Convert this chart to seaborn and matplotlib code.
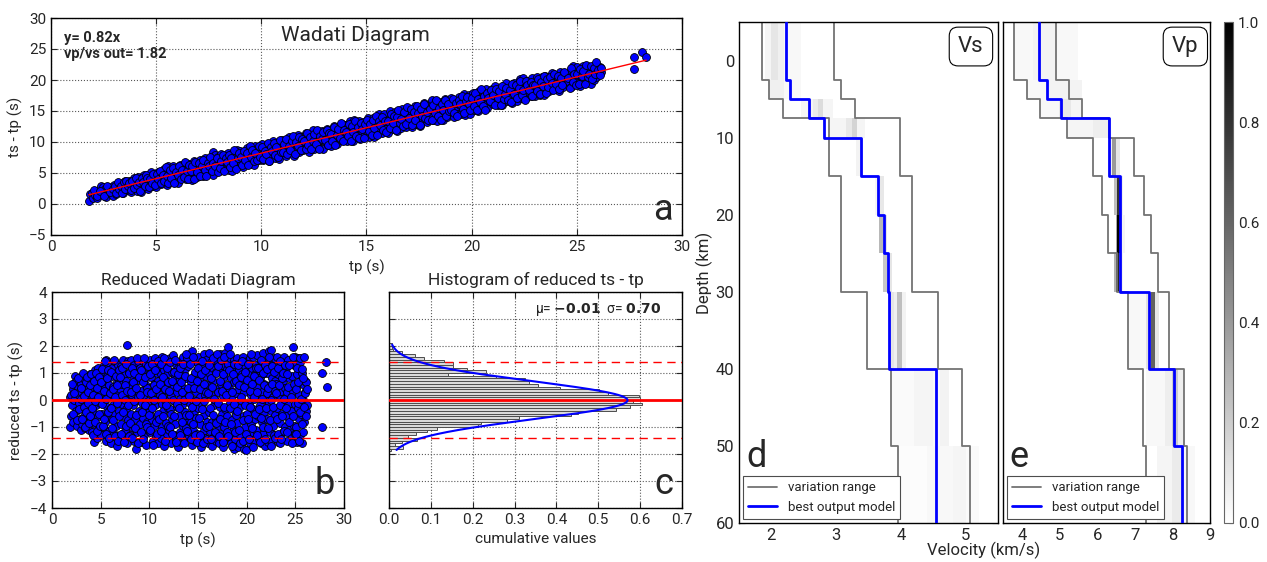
import numpy as np
import pandas as pd
import seaborn as sns
import matplotlib.pyplot as plt
from matplotlib.lines import Line2D

sns.set_style("ticks", {"xtick.direction": "in", "ytick.direction": "in"})
plt.rcParams['font.family'] = ['Roboto', 'DejaVu Sans']
plt.rcParams['axes.edgecolor'] = 'black'

# --- wadati data: (tp, reduced ts-tp) ---
obs = [
    (1.8, -1.0), (1.85, 0.1), (1.95, 0.2), (2.0, -0.6), (2.1, -0.2), (2.15, 0.4), (2.2, -0.8), (2.3, 0.0),
    (2.4, 0.9), (2.45, 0.7), (2.5, -0.4), (2.55, 0.3), (2.6, -0.95), (2.7, 0.5), (2.75, -0.1), (2.8, 0.2),
    (2.85, -0.7), (2.9, 0.35), (2.95, -1.1),
    (3.0, 0.6), (3.05, -0.3), (3.1, -0.9), (3.15, 0.1), (3.2, 0.8), (3.3, -0.6), (3.35, 0.4), (3.4, -1.05),
    (3.45, 0.0), (3.5, 0.9), (3.55, -0.4), (3.6, 0.3), (3.65, -0.8), (3.7, 0.7), (3.75, -0.15), (3.8, -1.1),
    (3.85, 0.5), (3.9, -0.5), (3.95, 0.95), (3.97, 0.15),
    (4.0, -0.7), (4.05, 0.5), (4.1, -1.2), (4.15, 0.95), (4.2, 0.05), (4.25, -0.45), (4.3, -1.55), (4.35, 0.65),
    (4.4, 1.1), (4.45, -0.9), (4.5, 0.25), (4.55, -0.2), (4.6, -1.4), (4.65, 0.8), (4.7, -0.6), (4.75, 1.2),
    (4.8, 0.4), (4.85, -1.05), (4.9, -0.1), (4.95, 0.6),
    (5.0, -1.3), (5.05, 0.3), (5.1, 1.0), (5.15, -0.5), (5.2, 0.7), (5.25, -1.0), (5.3, 0.0), (5.35, 1.3),
    (5.4, -0.8), (5.45, 0.45), (5.5, -1.5), (5.55, 1.5), (5.6, -0.25), (5.65, 0.9), (5.7, -0.6), (5.75, 0.2),
    (5.8, 1.4), (5.85, -1.15), (5.9, 0.55), (5.95, -0.35),
    (6.0, 0.85), (6.05, -1.6), (6.1, 0.15), (6.15, 1.2), (6.2, -0.7), (6.25, 0.5), (6.3, -0.2), (6.35, 1.45),
    (6.4, -1.25), (6.45, 0.3), (6.5, -0.5), (6.55, 1.0), (6.6, -0.95), (6.65, 0.65), (6.7, -1.7), (6.75, 0.0),
    (6.8, 1.3), (6.85, -0.4), (6.9, 0.75), (6.95, -1.4),
    (7.0, 0.4), (7.05, -0.9), (7.1, 1.25), (7.15, -0.15), (7.2, 0.6), (7.25, -1.45), (7.3, 1.5), (7.35, -0.6),
    (7.4, 0.1), (7.45, 0.95), (7.5, -1.15), (7.7, 2.05), (7.6, -0.35), (7.65, 0.7), (7.7, -1.6), (7.75, 0.3),
    (7.8, 1.45), (7.85, -0.75), (7.9, -0.05), (7.95, 1.05),
    (8.0, -1.3), (8.05, 0.55), (8.1, 1.5), (8.15, -0.5), (8.2, 0.2), (8.25, -1.0), (8.3, 0.9), (8.35, -0.2),
    (8.4, 1.3), (8.45, -1.5), (8.5, 0.4), (8.55, -0.7), (8.6, -1.8), (8.65, 1.1), (8.7, 0.0), (8.75, -1.2),
    (8.8, 0.75), (8.85, 1.45), (8.9, -0.4), (8.95, 0.25),
    (9.0, 1.2), (9.05, -0.9), (9.1, 0.35), (9.15, -1.55), (9.2, 0.8), (9.25, -0.1), (9.3, 1.45), (9.35, -0.65),
    (9.4, 0.1), (9.45, -1.3), (9.5, 1.0), (9.55, -0.3), (9.6, 0.6), (9.65, -1.65), (9.7, 1.35), (9.75, -0.8),
    (9.8, 0.45), (9.85, -0.05), (9.9, -1.1), (9.95, 0.95),
    (10.0, -0.45), (10.05, 1.5), (10.1, -1.2), (10.15, 0.3), (10.2, 0.85), (10.25, -0.75), (10.3, 1.2), (10.35, -1.5),
    (10.4, 0.05), (10.45, 0.6), (10.5, -0.95), (10.55, 1.55), (10.6, -0.2), (10.65, -1.35), (10.7, 0.4), (10.75, 1.0),
    (10.8, -0.6), (10.85, -1.6), (10.9, 0.7), (10.95, 0.15),
    (11.0, 1.3), (11.05, -0.55), (11.1, 0.2), (11.15, -1.4), (11.2, 0.95), (11.25, -0.15), (11.3, 1.6), (11.35, -1.0),
    (11.4, 0.5), (11.45, -0.4), (11.5, 1.1), (11.55, -1.7), (11.6, 0.0), (11.65, 0.75), (11.7, -0.85), (11.75, 1.45),
    (11.8, -1.25), (11.85, 0.35), (11.9, -0.3), (11.95, 1.0),
    (12.0, -1.1), (12.05, 0.6), (12.1, 1.55), (12.15, -0.35), (12.2, 0.15), (12.25, -1.6), (12.3, 1.05), (12.35, -0.7),
    (12.4, 0.45), (12.45, 1.65), (12.5, -1.3), (12.55, -0.05), (12.6, 0.85), (12.65, -0.9), (12.7, 1.3), (12.75, -1.45),
    (12.8, 0.3), (12.85, -0.25), (12.9, 1.2), (12.95, -1.75),
    (13.0, 0.7), (13.05, -0.6), (13.1, 1.4), (13.15, -1.2), (13.2, 0.05), (13.25, 1.0), (13.3, -1.55), (13.35, 0.5),
    (13.4, -0.2), (13.45, 1.6), (13.5, -0.95), (13.55, 0.25), (13.6, -1.4), (13.65, 1.15), (13.7, -0.45), (13.75, 0.8),
    (13.8, -1.05), (13.85, 1.55), (13.9, 0.1), (13.95, -0.75),
    (14.0, 1.25), (14.05, -1.35), (14.1, 0.4), (14.15, -0.1), (14.2, 1.7), (14.25, -0.8), (14.3, 0.65), (14.35, -1.65),
    (14.4, 1.8), (14.45, 0.0), (14.5, -1.1), (14.55, 0.9), (14.6, -0.4), (14.65, 1.45), (14.7, -1.5), (14.75, 0.3),
    (14.8, -0.65), (14.85, 1.1), (14.9, -1.25), (14.95, 0.55),
    (15.0, -0.3), (15.05, 1.6), (15.1, -1.5), (15.15, 0.75), (15.2, 0.1), (15.25, -0.9), (15.3, 1.3), (15.35, -1.75),
    (15.4, 0.45), (15.45, -0.15), (15.5, 1.0), (15.55, -1.2), (15.6, 1.7), (15.65, -0.55), (15.7, 0.2), (15.75, -1.4),
    (15.8, 0.9), (15.85, 1.5), (15.9, -0.8), (15.95, 0.35),
    (16.0, -1.6), (16.05, 0.55), (16.1, 1.75), (16.15, -0.45), (16.2, 0.95), (16.25, -1.15), (16.3, 0.2), (16.35, 1.4),
    (16.4, -0.8), (16.45, -1.7), (16.5, 0.7), (16.55, 1.2), (16.6, -0.2), (16.65, -1.35), (16.7, 1.6), (16.75, 0.0),
    (16.8, -0.7), (16.85, 1.05), (16.9, -1.5), (16.95, 0.4),
    (17.0, 1.45), (17.05, -0.95), (17.1, 0.3), (17.15, -1.6), (17.2, 1.1), (17.25, -0.25), (17.3, 1.7), (17.35, -1.25),
    (17.4, 0.6), (17.45, -0.5), (17.5, 1.3), (17.55, -1.75), (17.6, 0.15), (17.65, 0.85), (17.7, -1.0), (17.75, 1.75),
    (17.8, -0.35), (17.85, 0.5), (17.9, -1.4), (17.95, 1.15),
    (18.0, -0.6), (18.05, 1.35), (18.1, 1.95), (18.15, -1.3), (18.2, 0.45), (18.25, -0.1), (18.3, 1.55), (18.35, -1.6),
    (18.4, 0.8), (18.45, -0.75), (18.5, 0.15), (18.55, 1.2), (18.6, -1.1), (18.65, -1.8), (18.7, 0.65), (18.75, 1.5),
    (18.8, -0.4), (18.85, -1.45), (18.9, 1.0), (18.95, 0.25),
    (19.0, 1.55), (19.05, -0.85), (19.1, 0.4), (19.15, -1.75), (19.2, 1.1), (19.25, -0.3), (19.3, 0.7), (19.35, -1.3),
    (19.4, 1.4), (19.45, 0.0), (19.5, -1.55), (19.55, 0.95), (19.6, -0.6), (19.65, 1.6), (19.7, -1.8), (19.75, 0.3),
    (19.8, -1.0), (19.85, 1.25), (19.9, -1.85), (19.95, 0.6),
    (20.0, -0.5), (20.05, 1.45), (20.1, -1.35), (20.15, 0.55), (20.2, 1.0), (20.25, -0.15), (20.3, -1.6), (20.35, 1.55),
    (20.4, 0.2), (20.45, -0.9), (20.5, 1.2), (20.55, -1.2), (20.6, 0.7), (20.65, -0.35), (20.7, 1.6), (20.75, -1.5),
    (20.8, 0.05), (20.85, 0.95), (20.9, -0.7), (20.95, 1.3),
    (21.0, -1.1), (21.05, 0.45), (21.1, 1.65), (21.15, -0.6), (21.2, 0.15), (21.25, -1.45), (21.3, 1.1), (21.35, -0.2),
    (21.4, 0.8), (21.45, -1.6), (21.5, 1.45), (21.55, -0.8), (21.6, 0.3), (21.65, 1.75), (21.7, -1.25), (21.75, 0.6),
    (21.8, -0.45), (21.85, 1.0), (21.9, -1.7), (21.95, 0.0),
    (22.0, 1.4), (22.05, -0.7), (22.1, 0.25), (22.15, -1.55), (22.2, 1.0), (22.25, -0.1), (22.3, 1.8), (22.35, -1.2),
    (22.4, 0.55), (22.45, 1.85), (22.5, -0.4), (22.55, -1.5), (22.6, 0.8), (22.65, 1.3), (22.7, -0.95), (22.75, 0.1),
    (22.8, -1.3), (22.85, 1.55), (22.9, -0.55), (22.95, 0.7),
    (23.0, -1.4), (23.05, 0.6), (23.1, 1.6), (23.15, -0.3), (23.2, 0.95), (23.25, -1.55), (23.3, 0.2), (23.35, 1.3),
    (23.4, -0.85), (23.45, -1.6), (23.5, 1.45), (23.55, 0.35), (23.6, -0.5), (23.65, 1.1), (23.7, -1.2), (23.75, 0.7),
    (23.8, 1.6), (23.85, -0.1), (23.9, -1.0), (23.95, 0.45),
    (24.0, 1.2), (24.05, -0.6), (24.1, 0.3), (24.15, -1.5), (24.2, 1.5), (24.25, -0.2), (24.3, 0.8), (24.35, -1.1),
    (24.6, -0.4), (24.65, 0.9), (24.7, -1.35), (24.75, 0.35), (24.8, 1.95), (24.85, -0.95), (24.9, 1.3), (24.95, -0.15),
    (25.0, 1.6), (25.05, -1.0), (25.1, 0.5), (25.15, -1.55), (25.2, 0.95), (25.25, -0.3), (25.3, 1.55), (25.35, -0.7),
    (25.4, 0.2), (25.45, -1.3), (25.5, 1.4), (25.55, -0.5), (25.6, 0.75), (25.65, -1.6), (25.7, 1.0), (25.75, 0.0),
    (25.8, -1.2), (25.85, 0.55), (25.9, -0.8), (25.95, 0.3),
    (26.0, 0.7), (26.05, -0.4), (26.1, 0.65), (26.15, -0.2),
    (27.7, 1.0), (27.7, -1.0), (28.1, 1.4), (28.3, 0.5),
]
# second batch of picks filling the middle of the cloud
obs_more = [
    (2.03, 0.6), (2.17, -0.5), (2.31, 0.25), (2.52, -0.75), (2.65, 0.8), (2.8, -0.35), (2.93, 0.05),
    (3.03, 0.45), (3.1, -0.7), (3.17, 1.0), (3.24, -0.25), (3.31, 0.15), (3.38, -1.0), (3.45, 0.65),
    (3.52, -0.45), (3.58, 0.85), (3.65, -0.1), (3.72, 0.3), (3.8, -0.85), (3.87, 0.55), (3.93, -0.6),
    (4.03, 0.95), (4.1, -0.3), (4.17, 0.2), (4.24, -1.3), (4.31, 0.7), (4.38, -0.05), (4.45, -0.8),
    (4.52, 1.0), (4.58, 0.45), (4.65, -1.15), (4.72, 0.1), (4.8, -0.5), (4.87, 0.85), (4.93, -0.95),
    (5.03, 0.65), (5.1, -0.15), (5.17, 1.15), (5.24, -0.95), (5.31, 0.35), (5.38, -0.7), (5.45, 1.45),
    (5.52, 0.05), (5.58, -1.25), (5.65, 0.8), (5.72, -0.45), (5.8, 1.1), (5.87, -1.4), (5.93, 0.25),
    (6.03, -0.3), (6.1, 1.05), (6.17, -1.05), (6.24, 0.4), (6.31, -0.75), (6.38, 1.5), (6.45, 0.1),
    (6.52, -1.35), (6.58, 0.9), (6.65, -0.1), (6.72, 0.55), (6.8, -1.5), (6.87, 1.1), (6.93, -0.6),
    (7.03, 0.85), (7.1, -1.25), (7.17, 0.2), (7.24, 1.2), (7.31, -0.45), (7.38, -1.55), (7.45, 0.55),
    (7.52, 0.0), (7.58, 1.35), (7.65, -0.95), (7.72, 0.35), (7.8, -0.2), (7.87, 1.0), (7.93, -1.35),
    (8.03, -0.85), (8.1, 0.3), (8.17, 1.2), (8.24, -1.4), (8.31, 0.65), (8.38, -0.05), (8.45, 1.0),
    (8.52, -1.05), (8.58, 0.45), (8.65, -0.55), (8.72, 1.55), (8.8, -1.6), (8.87, 0.1), (8.93, 0.85),
    (9.03, 0.2), (9.1, -1.2), (9.17, 1.1), (9.24, -0.45), (9.31, 0.65), (9.38, -1.45), (9.45, 1.55),
    (9.52, -0.2), (9.58, 0.85), (9.65, -0.9), (9.72, 0.3), (9.8, -1.0), (9.87, 1.25), (9.93, -0.55),
    (10.03, 0.95), (10.1, -1.1), (10.17, 0.25), (10.24, -0.3), (10.31, 1.35), (10.38, -1.65), (10.45, 0.55),
    (10.52, 0.0), (10.58, 1.1), (10.65, -0.8), (10.72, 0.4), (10.8, -1.25), (10.87, 1.45), (10.93, -0.5),
    (11.03, -0.7), (11.1, 0.6), (11.17, 1.35), (11.24, -1.15), (11.31, 0.1), (11.38, -0.6), (11.45, 0.85),
    (11.52, 1.55), (11.58, -1.5), (11.65, 0.4), (11.72, -0.2), (11.8, 1.2), (11.87, -0.95), (11.93, 0.65),
    (12.03, 0.35), (12.1, -1.0), (12.17, 1.4), (12.24, -0.5), (12.31, 0.7), (12.38, -1.25), (12.45, 0.0),
    (12.52, 1.05), (12.58, -0.6), (12.65, 1.5), (12.72, -1.55), (12.8, 0.5), (12.87, -0.15), (12.93, 0.95),
    (13.03, -0.3), (13.1, 1.2), (13.17, -1.3), (13.24, 0.65), (13.31, 0.3), (13.38, -0.8), (13.45, 1.35),
    (13.52, -1.6), (13.58, 0.0), (13.65, 0.9), (13.72, -0.55), (13.8, 1.7), (13.87, -1.15), (13.93, 0.45),
    (14.03, 0.15), (14.1, -0.55), (14.17, 1.35), (14.24, -1.45), (14.31, 0.8), (14.38, -0.25), (14.45, 1.6),
    (14.52, -0.9), (14.58, 0.45), (14.65, -1.3), (14.72, 1.05), (14.8, -0.05), (14.87, -1.55), (14.93, 0.7),
    (15.03, 1.2), (15.1, -0.65), (15.17, 0.4), (15.24, -1.3), (15.31, 0.95), (15.38, -0.35), (15.45, 1.45),
    (15.52, -1.6), (15.58, 0.6), (15.65, -0.05), (15.72, 1.1), (15.8, -1.0), (15.87, 0.3), (15.93, -1.45),
    (16.03, 0.25), (16.1, -0.95), (16.17, 1.3), (16.24, -0.3), (16.31, 0.8), (16.38, -1.45), (16.45, 0.5),
    (16.52, 1.55), (16.58, -0.55), (16.65, 0.05), (16.72, -1.2), (16.8, 1.0), (16.87, -0.85), (16.93, 1.7),
    (17.03, -0.1), (17.1, 1.25), (17.17, -1.35), (17.24, 0.7), (17.31, -0.7), (17.38, 1.5), (17.45, 0.35),
    (17.52, -1.55), (17.58, 0.95), (17.65, -0.25), (17.72, 1.6), (17.8, -0.8), (17.87, 0.2), (17.93, -1.2),
    (18.03, 0.55), (18.1, -1.35), (18.17, 1.1), (18.24, -0.3), (18.31, 1.7), (18.38, -0.9), (18.45, 0.3),
    (18.52, -1.7), (18.58, 0.95), (18.65, -0.15), (18.72, 1.35), (18.8, -1.2), (18.87, 0.7), (18.93, -0.55),
    (19.03, -0.4), (19.1, 1.3), (19.17, -1.1), (19.24, 0.55), (19.31, -1.6), (19.38, 0.85), (19.45, 0.1),
    (19.52, 1.45), (19.58, -0.75), (19.65, -1.5), (19.72, 0.5), (19.8, 1.05), (19.87, -0.2), (19.93, -1.25),
    (20.03, 0.75), (20.1, -0.7), (20.17, 1.35), (20.24, -1.45), (20.31, 0.35), (20.38, -0.25), (20.45, 1.7),
    (20.52, -1.05), (20.58, 0.6), (20.65, -1.75), (20.72, 0.9), (20.8, 0.1), (20.87, -0.5), (20.93, 1.2),
    (21.03, 0.3), (21.1, -1.3), (21.17, 1.2), (21.24, -0.35), (21.31, 0.75), (21.38, -1.55), (21.45, 1.5),
    (21.52, -0.65), (21.58, 0.05), (21.65, 1.0), (21.72, -1.0), (21.8, 0.55), (21.87, -1.45), (21.93, 1.3),
    (22.03, -0.3), (22.1, 1.15), (22.17, -1.05), (22.24, 0.45), (22.31, 1.6), (22.38, -0.75), (22.45, 0.0),
    (22.52, -1.7), (22.58, 1.25), (22.65, 0.6), (22.72, -0.25), (22.8, 1.05), (22.87, -1.4), (22.93, 0.35),
    (23.03, 0.25), (23.1, -0.7), (23.17, 1.2), (23.24, -1.25), (23.31, 0.55), (23.38, -0.2), (23.45, 1.45),
    (23.52, -1.45), (23.58, 0.8), (23.65, -0.6), (23.72, 1.0), (23.8, 0.05), (23.87, -1.15), (23.93, 1.3),
    (24.03, -0.3), (24.1, 0.95), (24.17, -1.2), (24.24, 0.5), (24.31, -0.8), (24.38, 1.3),
    (24.6, 0.1), (24.67, -1.6), (24.74, 1.6), (24.81, -0.6), (24.88, 0.6), (24.95, -1.25),
    (25.03, 0.4), (25.1, -1.25), (25.17, 1.2), (25.24, -0.1), (25.31, 0.65), (25.38, -1.5), (25.45, 1.55),
    (25.52, -0.45), (25.58, 0.05), (25.65, 1.15), (25.72, -0.9), (25.8, 0.8), (25.87, -0.25), (25.93, 1.6),
    (26.03, 0.25), (26.1, -0.6), (26.17, 0.4),
]
slope = 0.82
vpvs = 1.82
mu, sigma = -0.01, 0.70

# histogram of reduced ts-tp (bins of 0.1 s starting at -1.9)
hist_start, hist_width = -1.9, 0.1
hist_density = [0.004, 0.034, 0.014, 0.03, 0.068, 0.046, 0.064, 0.09, 0.114, 0.213,
                0.219, 0.281, 0.311, 0.434, 0.452, 0.542, 0.576, 0.605, 0.584, 0.60,
                0.598, 0.524, 0.502, 0.408, 0.357, 0.334, 0.326, 0.256, 0.142, 0.232,
                0.186, 0.154, 0.152, 0.132, 0.084, 0.062, 0.03, 0.01, 0.008, 0.006]

# --- velocity models ---
depth_edges = [-5, 2.5, 5, 7.5, 10, 15, 20, 25, 30, 40, 50, 60]
vs_best = [2.22, 2.29, 2.575, 2.82, 3.39, 3.65, 3.74, 3.80, 3.81, 4.55, 4.55]
vs_min = [1.855, 1.96, 2.18, 2.89, 2.89, 3.07, 3.07, 3.07, 3.48, 3.84, 3.96]
vs_max = [2.96, 3.07, 3.29, 3.99, 3.99, 4.17, 4.17, 4.17, 4.57, 4.95, 5.06]
vp_best = [4.46, 4.67, 5.03, 6.32, 6.32, 6.62, 6.62, 6.62, 7.39, 8.05, 8.26]
vp_min = [3.78, 4.15, 4.49, 5.2, 5.9, 6.13, 6.3, 6.53, 6.81, 7.23, 7.29]
vp_max = [4.9, 5.26, 5.6, 6.32, 6.98, 7.24, 7.42, 7.61, 7.91, 8.31, 8.38]

# probability bands per layer: (v_from, v_to, normalised density)
vs_density = [
    [(1.9, 2.0, 0.04), (2.0, 2.1, 0.1), (2.1, 2.2, 0.06), (2.2, 2.45, 0.03)],
    [(1.95, 2.2, 0.06), (2.2, 2.45, 0.03)],
    [(2.45, 2.65, 0.04), (2.65, 2.72, 0.08), (2.72, 2.8, 0.14), (2.8, 2.95, 0.04)],
    [(2.9, 3.15, 0.04), (3.15, 3.24, 0.09), (3.24, 3.32, 0.17), (3.32, 3.45, 0.04)],
    [(3.3, 3.42, 0.05)],
    [(3.6, 3.68, 0.04), (3.68, 3.74, 0.09)],
    [(3.66, 3.72, 0.28), (3.72, 3.78, 0.1)],
    [(3.72, 3.78, 0.22), (3.78, 3.86, 0.1)],
    [(3.82, 3.9, 0.1), (3.9, 3.94, 0.06), (3.94, 4.02, 0.25), (4.02, 4.08, 0.05)],
    [(3.85, 4.2, 0.02), (4.2, 4.5, 0.04), (4.5, 4.6, 0.02), (4.6, 4.75, 0.05)],
    [(3.96, 4.4, 0.015), (4.4, 4.8, 0.03), (4.8, 5.0, 0.04), (5.0, 5.2, 0.02)],
]
vp_density = [
    [(3.8, 4.3, 0.03), (4.3, 4.9, 0.05), (4.9, 5.5, 0.03)],
    [(4.15, 4.7, 0.03), (4.7, 5.6, 0.05)],
    [(4.5, 5.0, 0.03), (5.0, 5.3, 0.09), (5.3, 5.6, 0.04)],
    [(5.2, 5.9, 0.04), (5.9, 6.3, 0.07)],
    [(6.3, 6.4, 0.06), (6.4, 6.5, 0.4), (6.5, 6.62, 0.1)],
    [(6.45, 6.53, 0.25), (6.53, 6.6, 0.8), (6.6, 6.7, 0.06)],
    [(6.5, 6.54, 0.35), (6.54, 6.6, 1.0), (6.6, 6.75, 0.04)],
    [(6.45, 6.5, 0.3), (6.5, 6.58, 0.85), (6.58, 6.7, 0.05)],
    [(6.8, 7.3, 0.03), (7.3, 7.44, 0.12), (7.44, 7.54, 0.62), (7.54, 7.65, 0.1)],
    [(7.3, 7.8, 0.03), (7.8, 8.0, 0.07), (8.0, 8.15, 0.2), (8.15, 8.3, 0.07)],
    [(7.6, 8.0, 0.04), (8.0, 8.3, 0.08), (8.3, 8.6, 0.03)],
]

df = pd.DataFrame(obs + obs_more, columns=['tp', 'reduced'])
df['ts_tp'] = slope * df['tp'] + df['reduced']

fig = plt.figure(figsize=(12.67, 5.62), dpi=100)
W, H = 1267, 562


def add_ax(x0, y0, x1, y1):
    return fig.add_axes([x0 / W, 1 - y1 / H, (x1 - x0) / W, (y1 - y0) / H])


def dress(ax, size=11):
    ax.tick_params(direction='in', top=True, right=True, labelsize=size, length=4, width=0.8)
    for s in ax.spines.values():
        s.set_linewidth(1.0)


# ---------- a: Wadati diagram ----------
ax = add_ax(51, 18, 682, 235)
ax.grid(True, ls=':', color='0.35', lw=0.8)
sns.scatterplot(data=df, x='tp', y='ts_tp', ax=ax, color='blue', edgecolor='black',
                s=32, linewidth=0.6, zorder=3, legend=False)
xl = np.array([df['tp'].min(), df['tp'].max()])
ax.plot(xl, slope * xl, color='red', lw=1, zorder=4)
ax.set_xlim(0, 30)
ax.set_ylim(-5, 30)
ax.set_xlabel('tp (s)', fontsize=11)
ax.set_ylabel('ts - tp (s)', fontsize=11)
dress(ax)
ax.text(0.483, 0.965, 'Wadati Diagram', transform=ax.transAxes, ha='center', va='top', fontsize=15)
ax.text(0.02, 0.91, 'y= %.2fx' % slope, transform=ax.transAxes, fontsize=10.5, fontweight='bold', va='center')
ax.text(0.02, 0.835, 'vp/vs out= %.2f' % vpvs, transform=ax.transAxes, fontsize=10.5, fontweight='bold', va='center')
ax.text(0.985, 0.03, 'a', transform=ax.transAxes, ha='right', va='bottom', fontsize=26)

# ---------- b: reduced Wadati ----------
ax = add_ax(52, 292, 344, 508)
ax.grid(True, ls=':', color='0.35', lw=0.8)
sns.scatterplot(data=df, x='tp', y='reduced', ax=ax, color='blue', edgecolor='black',
                s=32, linewidth=0.6, zorder=3, legend=False)
ax.axhline(mu, color='red', lw=2, zorder=4)
for k in (-2, 2):
    ax.axhline(mu + k * sigma, color='red', lw=1, ls=(0, (6, 4)), zorder=4)
ax.set_xlim(0, 30)
ax.set_ylim(-4, 4)
ax.set_yticks(range(-4, 5))
ax.set_xlabel('tp (s)', fontsize=11)
ax.set_ylabel('reduced ts - tp (s)', fontsize=11)
ax.set_title('Reduced Wadati Diagram', fontsize=12.5, pad=5)
dress(ax)
ax.text(0.97, 0.03, 'b', transform=ax.transAxes, ha='right', va='bottom', fontsize=26)

# ---------- c: histogram ----------
ax = add_ax(389, 292, 682, 508)
ax.grid(True, ls=':', color='0.35', lw=0.8)
lows = hist_start + hist_width * np.arange(len(hist_density))
ax.barh(lows, hist_density, height=hist_width, align='edge', color='0.85',
        edgecolor='0.3', lw=0.7, zorder=2)
yy = np.linspace(df['reduced'].min(), df['reduced'].max(), 200)
pdf = np.exp(-(yy - mu) ** 2 / (2 * sigma ** 2)) / (sigma * np.sqrt(2 * np.pi))
ax.plot(pdf, yy, color='blue', lw=1.5, zorder=4)
ax.axhline(mu, color='red', lw=2, zorder=3)
for k in (-2, 2):
    ax.axhline(mu + k * sigma, color='red', lw=1, ls=(0, (6, 4)), zorder=3)
ax.set_xlim(0, 0.7)
ax.set_ylim(-4, 4)
ax.set_yticks(range(-4, 5))
ax.set_xticks(np.arange(0, 0.71, 0.1))
ax.xaxis.set_major_formatter(plt.FormatStrFormatter('%.1f'))
ax.tick_params(labelleft=False)
ax.set_xlabel('cumulative values', fontsize=11)
ax.set_title('Histogram of reduced ts - tp', fontsize=12.5, pad=5)
dress(ax)
ax.text(0.93, 0.92, r'μ= $\bf{%.2f}$  σ= $\bf{%.2f}$' % (mu, sigma), transform=ax.transAxes,
        ha='right', va='center', fontsize=10)
ax.text(0.97, 0.03, 'c', transform=ax.transAxes, ha='right', va='bottom', fontsize=26)


# ---------- d / e: velocity models ----------
def steps(vals):
    y = np.repeat(depth_edges, 2)[1:-1]
    x = np.repeat(vals, 2)
    return x, y


def density_grid(bands, xlim):
    edges = np.arange(xlim[0], xlim[1] + 0.005, 0.01)
    mids = 0.5 * (edges[1:] + edges[:-1])
    z = np.zeros((len(bands), len(mids)))
    for i, layer in enumerate(bands):
        for v0, v1, val in layer:
            z[i, (mids >= v0) & (mids < v1)] = val
    return edges, z


def model_panel(box, best, vmin, vmax, bands, xlim, xticks, name, letter, show_y):
    ax = add_ax(*box)
    edges, z = density_grid(bands, xlim)
    mesh = ax.pcolormesh(edges, depth_edges, z, cmap='gray_r', vmin=0, vmax=1, zorder=1)
    for vals in (vmin, vmax):
        x, y = steps(vals)
        ax.plot(x, y, color='0.45', lw=1.3, zorder=2)
    x, y = steps(best)
    ax.plot(x, y, color='blue', lw=2, zorder=3)
    ax.set_xlim(*xlim)
    ax.set_ylim(60, -5)
    ax.set_xticks(xticks)
    ax.set_yticks(range(0, 61, 10))
    dress(ax, size=12)
    ax.tick_params(labelleft=show_y)
    if show_y:
        ax.set_ylabel('Depth (km)', fontsize=12, labelpad=2)
    ax.text(0.945, 0.972, name, transform=ax.transAxes, ha='right', va='top', fontsize=16,
            bbox=dict(boxstyle='round,pad=0.4', fc='white', ec='black', lw=0.8))
    handles = [Line2D([], [], color='0.45', lw=1.3), Line2D([], [], color='blue', lw=2)]
    leg = ax.legend(handles, ['variation range', 'best output model'], loc='lower left',
                    fontsize=9.5, fancybox=False, framealpha=1, edgecolor='0.3',
                    borderaxespad=0.3, handlelength=2.2)
    leg.get_frame().set_linewidth(0.8)
    ax.text(0.03, 0.095, letter, transform=ax.transAxes, ha='left', va='bottom', fontsize=26)
    return ax, mesh


model_panel((739, 22, 998, 523), vs_best, vs_min, vs_max, vs_density, (1.5, 5.5),
            [2, 3, 4, 5], 'Vs', 'd', True)
ax_e, mesh = model_panel((1003, 22, 1210, 523), vp_best, vp_min, vp_max, vp_density, (3.5, 9),
                         [4, 5, 6, 7, 8, 9], 'Vp', 'e', False)
fig.text(984 / W, 1 - 550 / H, 'Velocity (km/s)', ha='center', va='center', fontsize=12)

cax = add_ax(1224, 22, 1233, 523)
cb = fig.colorbar(mesh, cax=cax, ticks=np.arange(0, 1.01, 0.2))
cb.ax.yaxis.set_major_formatter(plt.FormatStrFormatter('%.1f'))
cb.ax.tick_params(labelsize=11, direction='in', length=3)
cb.outline.set_linewidth(0.8)
cb.outline.set_edgecolor('0.4')

fig.savefig('out.png', dpi=100)
